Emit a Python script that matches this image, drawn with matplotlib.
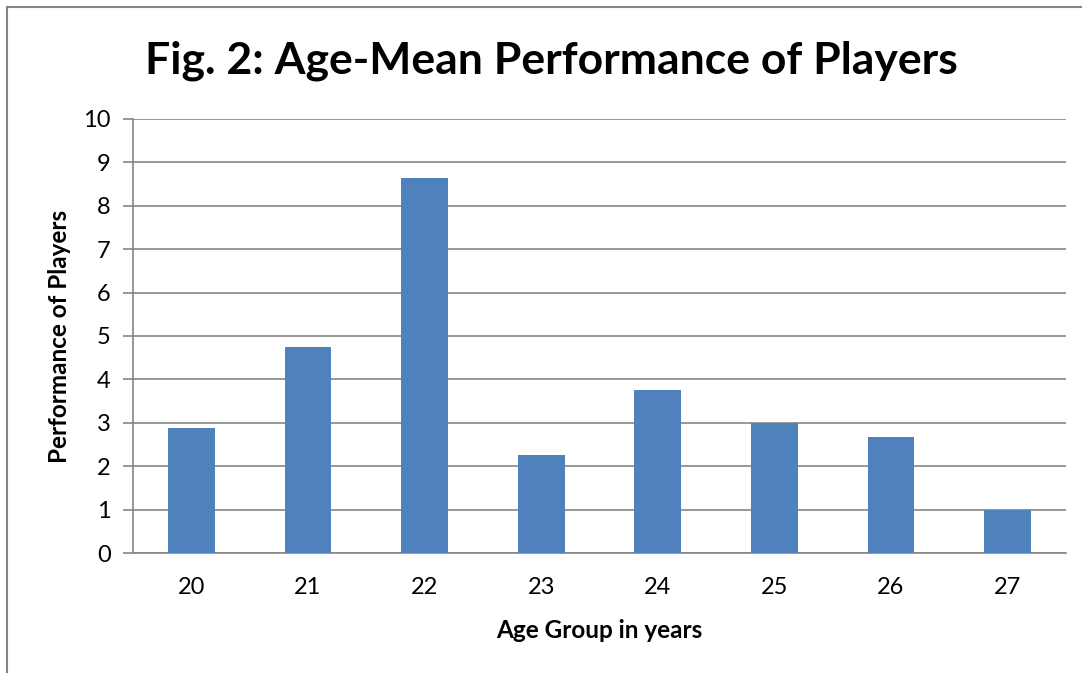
import matplotlib
matplotlib.use('Agg')
import matplotlib.pyplot as plt
from matplotlib.patches import Rectangle

# данные
ages = ['20', '21', '22', '23', '24', '25', '26', '27']
performance = [2.88, 4.75, 8.63, 2.25, 3.75, 3.0, 2.67, 1.0]

plt.rcParams['font.family'] = ['Lato', 'DejaVu Sans']

W, H = 1082, 673
fig = plt.figure(figsize=(W / 100, H / 100), dpi=100)
fig.patch.set_facecolor('white')

# рамка вокруг всей диаграммы (как в Excel)
fig.patches.append(Rectangle((7 / W, -0.1), 1.2, 1 - 7 / H + 0.1,
                             transform=fig.transFigure, fill=False,
                             edgecolor='#868686', linewidth=1.5))

left, right, top, bottom = 133, 1066, 119, 553
ax = fig.add_axes([left / W, 1 - bottom / H, (right - left) / W, (bottom - top) / H])

x = range(len(ages))
ax.bar(x, performance, width=0.4, color='#4F81BD', zorder=3)

ax.set_xlim(-0.5, len(ages) - 0.5)
ax.set_ylim(0, 10)
ax.set_yticks(range(0, 11))
ax.set_xticks(list(x))
ax.set_xticklabels(ages)

ax.grid(axis='y', color='#868686', linewidth=1.2, zorder=0)
for s in ['top', 'right']:
    ax.spines[s].set_visible(False)
ax.spines['left'].set_color('#868686')
ax.spines['bottom'].set_color('#868686')
ax.spines['left'].set_linewidth(1.2)
ax.spines['bottom'].set_linewidth(1.2)
ax.tick_params(axis='y', length=7, color='#868686', width=1.2, labelsize=17, pad=9)
ax.tick_params(axis='x', length=0, labelsize=17, pad=17)

ax.set_xlabel('Age Group in years', fontsize=17.5, fontweight='bold', labelpad=15.5)
ax.set_ylabel('Performance of Players', fontsize=17.5, fontweight='bold', labelpad=8.5)

fig.text(551 / W, 1 - 61 / H, 'Fig. 2: Age-Mean Performance of Players',
         ha='center', va='center', fontsize=32, fontweight='bold')

fig.savefig('out.png', dpi=100)
